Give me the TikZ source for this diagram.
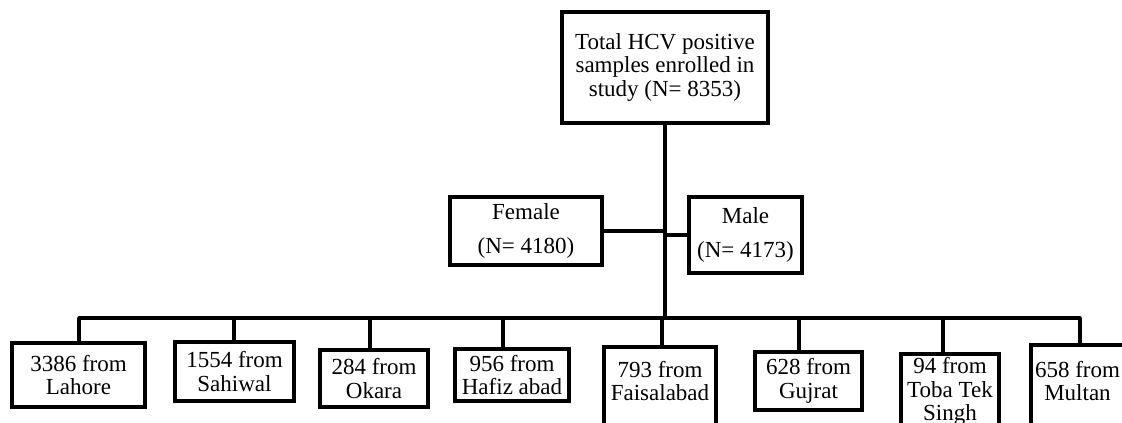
\documentclass[tikz,border=0pt]{standalone}
\usepackage{fontspec}
\setmainfont{Liberation Serif}
\begin{document}
\begin{tikzpicture}[x=1pt,y=-1pt,
  box/.style={draw,line width=3.5pt,align=center,inner sep=0pt,font=\fontsize{23}{23.5}\selectfont},
  link/.style={line width=3.5pt},
  trunk/.style={line width=4.5pt}]
\path[use as bounding box,clip] (0,0) rectangle (1122,423);
%\draw[step=50,very thin,color=gray] (0,0) grid (1122,423);
\node[box,minimum width=206pt,minimum height=111pt] (total) at (665,67.5) {Total HCV positive\\samples enrolled in\\study (N= 8353)};
\node[box,minimum width=152pt,minimum height=68pt] (female) at (526,231) {Female\\[10pt](N= 4180)};
\node[box,minimum width=113pt,minimum height=76pt] (male) at (745.5,235) {Male\\[10pt](N= 4173)};
\node[box,minimum width=133pt,minimum height=64pt] (lahore) at (78.5,375) {3386 from\\Lahore};
\node[box,minimum width=119pt,minimum height=59pt] (sahiwal) at (234.5,371.5) {1554 from\\Sahiwal};
\node[box,minimum width=108pt,minimum height=57pt] (okara) at (374,378.5) {284 from\\Okara};
\node[box,minimum width=114pt,minimum height=52pt] (hafiz) at (512,375) {956 from\\Hafiz abad};
\node[box,anchor=north,minimum width=112pt,text height=54pt,text depth=60pt] (faisal) at (660,345) {793 from\\Faisalabad};
\node[box,minimum width=107pt,minimum height=58pt] (gujrat) at (808.5,381) {628 from\\Gujrat};
\node[box,anchor=north,minimum width=98pt,text height=67pt,text depth=60pt] (toba) at (950,352) {94 from\\Toba Tek\\Singh};
\node[box,anchor=north,minimum width=93pt,text height=56pt,text depth=60pt] (multan) at (1077.5,343) {658 from\\Multan};
% bus line
\coordinate (bl) at (79,318);
\coordinate (br) at (1080,318);
\draw[trunk] (total.south) -- (total.south |- bl);
\draw[link] (female.east) -- (female.east -| total.south);
\draw[link] (male.west) -- (male.west -| total.south);
\draw[link,line cap=round] (bl) -- (br);
\foreach \n/\x in {lahore/79,sahiwal/234,okara/370,hafiz/503,faisal/662,gujrat/799,toba/943,multan/1080}
{
  \coordinate (d\n) at (\x,318);
  \draw[link] (d\n) -- (d\n |- \n.north);
}
\end{tikzpicture}
\end{document}
